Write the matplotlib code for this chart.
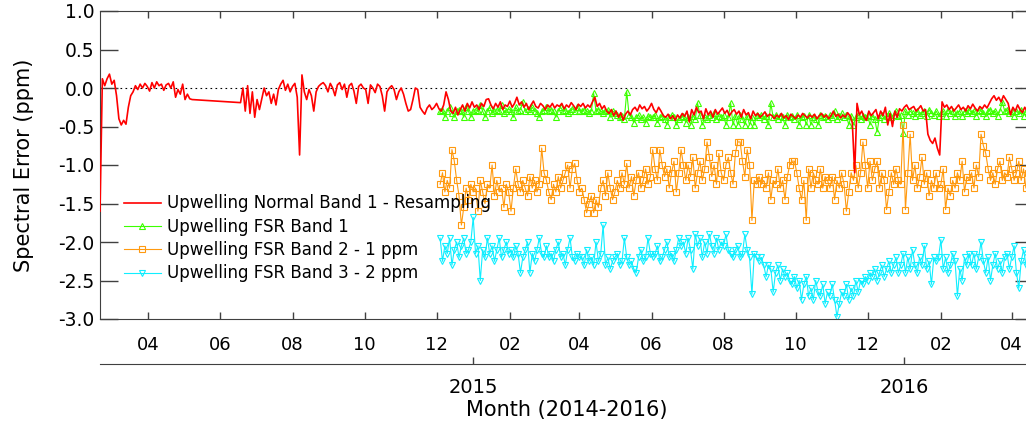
import numpy as np
import matplotlib
matplotlib.use('Agg')
import matplotlib.pyplot as plt
import matplotlib.dates as mdates

# Upwelling Normal Band 1 - Resampling (2-day samples), before and after the data gap
red_start_a = '2014-02-19'
red_a = [-1.6, 0.12, 0.03, 0.12, 0.18, 0.05, 0.1, -0.1, -0.4, -0.48, -0.42, -0.47, -0.25, -0.1, -0.05,
         0.03, -0.02, 0.05, 0.0, 0.06, 0.02, -0.04, 0.07, 0.0, 0.08, 0.03, 0.05, -0.03, 0.04, 0.06,
         0.0, 0.08, -0.12, -0.02, -0.08, 0.05, -0.15, -0.08, -0.14, -0.15]
red_start_b = '2014-06-18'
red_b = [-0.19, 0.0, -0.3, 0.03, -0.33, -0.05, -0.38, -0.15, -0.28, -0.14, 0.0, -0.1, -0.05, -0.2, -0.08,
         -0.22, -0.02, 0.05, 0.1, -0.03, 0.05, -0.05, 0.02, 0.06, -0.12, -0.87, 0.17, -0.05, -0.15, -0.02,
         -0.1, -0.3, -0.05, 0.02, 0.05, 0.07, 0.03, -0.05, 0.06, 0.0, -0.1, 0.04, 0.07, -0.02, 0.05,
         -0.12, 0.03, 0.06, -0.04, -0.2, 0.02, 0.05, 0.0, -0.02, -0.2, 0.04, 0.0, -0.06, 0.05, 0.02,
         -0.1, -0.3, -0.05, 0.0, 0.03, -0.02, -0.15, -0.05, 0.0, -0.08, -0.2, -0.3, -0.28, -0.15, 0.0,
         -0.02, -0.25, -0.3, -0.34, -0.26, -0.22, -0.28, -0.25, -0.2, -0.27, -0.3, -0.22, -0.05, -0.15, -0.3,
         -0.33, -0.25, -0.35, -0.28, -0.22, -0.3, -0.2, -0.26, -0.18, -0.25, -0.22, -0.28, -0.2, -0.24, -0.15,
         -0.14, -0.22, -0.27, -0.2, -0.25, -0.18, -0.28, -0.22, -0.24, -0.17, -0.25, -0.2, -0.12, -0.22, -0.18,
         -0.25, -0.2, -0.28, -0.22, -0.17, -0.24, -0.26, -0.2, -0.23, -0.28, -0.22, -0.25, -0.2, -0.26, -0.22,
         -0.24, -0.2, -0.27, -0.22, -0.25, -0.19, -0.23, -0.28, -0.21, -0.24, -0.2, -0.26, -0.22, -0.25, -0.18,
         -0.12, -0.24, -0.2, -0.27, -0.23, -0.3, -0.33, -0.28, -0.36, -0.3, -0.38, -0.32, -0.42, -0.34, -0.3,
         -0.35, -0.28, -0.25, -0.3, -0.22, -0.27, -0.24, -0.3, -0.26, -0.2, -0.28, -0.32, -0.25, -0.3, -0.36,
         -0.38, -0.34, -0.4, -0.36, -0.42, -0.35, -0.39, -0.33, -0.37, -0.3, -0.44, -0.28, -0.35, -0.25, -0.32,
         -0.3, -0.4, -0.27, -0.35, -0.3, -0.38, -0.28, -0.34, -0.3, -0.26, -0.33, -0.29, -0.36, -0.31, -0.28,
         -0.34, -0.3, -0.38, -0.28, -0.35, -0.32, -0.4, -0.3, -0.36, -0.33, -0.38, -0.35, -0.31, -0.37, -0.34,
         -0.36, -0.4, -0.35, -0.38, -0.33, -0.39, -0.36, -0.41, -0.34, -0.37, -0.4, -0.35, -0.38, -0.33, -0.36,
         -0.39, -0.35, -0.38, -0.34, -0.4, -0.36, -0.33, -0.38, -0.35, -0.4, -0.36, -0.3, -0.37, -0.34, -0.39,
         -0.35, -0.38, -0.32, -0.36, -0.45, -1.1, -0.2, -0.35, -0.3, -0.38, -0.42, -0.3, -0.36, -0.32, -0.28,
         -0.4, -0.3, -0.36, -0.25, -0.48, -0.33, -0.5, -0.3, -0.38, -0.27, -0.3, -0.25, -0.22, -0.28, -0.26,
         -0.24, -0.3, -0.27, -0.23, -0.3, -0.28, -0.6, -0.68, -0.72, -0.65, -0.78, -0.87, -0.18, -0.25, -0.22,
         -0.28, -0.24, -0.3, -0.26, -0.22, -0.28, -0.25, -0.3, -0.23, -0.27, -0.21, -0.26, -0.3, -0.24, -0.27,
         -0.22, -0.26, -0.2, -0.14, -0.1, -0.16, -0.12, -0.18, -0.1, -0.15, -0.2, -0.35, -0.25, -0.3, -0.22,
         -0.28, -0.32, -0.25, -0.3, -0.27]

# FSR bands (2-day samples from this date)
fsr_start = '2014-12-04'
fsr_band1 = [-0.3, -0.28, -0.38, -0.3, -0.25, -0.32, -0.38, -0.3, -0.28, -0.3, -0.38, -0.25, -0.3, -0.38, -0.3,
             -0.28, -0.3, -0.22, -0.3, -0.38, -0.3, -0.25, -0.32, -0.3, -0.28, -0.3, -0.22, -0.32, -0.3, -0.27,
             -0.3, -0.38, -0.25, -0.3, -0.28, -0.18, -0.3, -0.27, -0.3, -0.25, -0.3, -0.32, -0.38, -0.3, -0.28,
             -0.25, -0.3, -0.28, -0.3, -0.38, -0.3, -0.25, -0.3, -0.28, -0.32, -0.3, -0.27, -0.3, -0.25, -0.3,
             -0.3, -0.28, -0.3, -0.32, -0.3, -0.07, -0.3, -0.28, -0.3, -0.32, -0.3, -0.28, -0.38, -0.3, -0.32,
             -0.35, -0.38, -0.36, -0.4, -0.05, -0.35, -0.38, -0.45, -0.38, -0.35, -0.4, -0.38, -0.45, -0.36, -0.38,
             -0.38, -0.35, -0.45, -0.38, -0.36, -0.4, -0.48, -0.38, -0.35, -0.38, -0.48, -0.4, -0.38, -0.36, -0.45,
             -0.38, -0.48, -0.36, -0.4, -0.2, -0.35, -0.48, -0.38, -0.4, -0.35, -0.38, -0.33, -0.4, -0.36, -0.38,
             -0.35, -0.48, -0.38, -0.2, -0.48, -0.36, -0.48, -0.35, -0.4, -0.48, -0.36, -0.48, -0.38, -0.48, -0.35,
             -0.38, -0.35, -0.4, -0.36, -0.48, -0.2, -0.38, -0.35, -0.4, -0.36, -0.38, -0.48, -0.35, -0.38, -0.36,
             -0.4, -0.35, -0.48, -0.38, -0.36, -0.48, -0.35, -0.48, -0.38, -0.4, -0.48, -0.35, -0.38, -0.36, -0.4,
             -0.35, -0.38, -0.3, -0.4, -0.36, -0.33, -0.38, -0.35, -0.48, -0.36, -0.48, -0.38, -0.35, -0.4, -0.36,
             -0.38, -0.35, -0.48, -0.36, -0.4, -0.57, -0.38, -0.35, -0.4, -0.36, -0.33, -0.38, -0.35, -0.3, -0.36,
             -0.35, -0.58, -0.3, -0.35, -0.3, -0.33, -0.36, -0.3, -0.35, -0.32, -0.3, -0.36, -0.28, -0.33, -0.35,
             -0.3, -0.36, -0.33, -0.3, -0.36, -0.28, -0.33, -0.3, -0.36, -0.32, -0.3, -0.36, -0.3, -0.33, -0.28,
             -0.33, -0.3, -0.36, -0.28, -0.3, -0.33, -0.36, -0.3, -0.28, -0.33, -0.3, -0.36, -0.3, -0.18, -0.3,
             -0.28, -0.33, -0.3, -0.36, -0.3, -0.33, -0.28, -0.36, -0.3, -0.33, -0.3, -0.36]
fsr_band2 = [-1.25, -1.1, -1.35, -1.2, -1.3, -0.8, -0.95, -1.2, -1.4, -1.78, -1.55, -1.3, -1.45, -1.25, -1.35,
             -1.3, -1.6, -1.2, -1.35, -1.5, -1.25, -1.3, -1.0, -1.4, -1.2, -1.35, -1.3, -1.55, -1.25, -1.35,
             -1.6, -1.3, -1.05, -1.25, -1.35, -1.2, -1.3, -1.4, -1.15, -1.3, -1.2, -1.35, -1.25, -0.78, -1.1,
             -1.2, -1.35, -1.45, -1.25, -1.35, -1.15, -1.3, -1.2, -1.1, -1.0, -1.3, -1.05, -0.98, -1.2, -1.35,
             -1.3, -1.45, -1.62, -1.5, -1.4, -1.62, -1.45, -1.55, -1.3, -1.2, -1.4, -1.1, -1.3, -1.45, -1.35,
             -1.2, -1.3, -1.1, -1.25, -0.98, -1.3, -1.15, -1.4, -1.2, -1.1, -1.3, -1.2, -1.05, -1.25, -1.15,
             -0.8, -1.05, -1.2, -0.8, -1.0, -1.15, -1.05, -1.3, -1.1, -0.95, -1.35, -1.1, -0.8, -1.0, -1.2,
             -1.0, -1.15, -0.9, -1.3, -1.1, -0.95, -1.2, -1.05, -0.7, -0.9, -1.15, -1.0, -1.25, -0.85, -1.1,
             -1.2, -1.0, -0.9, -1.1, -1.25, -0.85, -0.7, -0.7, -0.95, -1.15, -0.8, -1.0, -1.72, -1.2, -1.25,
             -1.15, -1.25, -1.2, -1.3, -1.1, -1.45, -1.2, -1.25, -1.05, -1.3, -1.2, -1.45, -1.15, -1.0, -0.95,
             -0.95, -1.1, -1.3, -1.45, -1.2, -1.72, -1.05, -1.3, -1.1, -1.2, -1.25, -1.05, -1.3, -1.15, -1.2,
             -1.3, -1.15, -1.45, -1.2, -1.3, -1.1, -1.25, -1.6, -1.35, -1.1, -1.2, -1.0, -1.3, -1.1, -0.7,
             -1.0, -1.3, -0.95, -1.2, -1.05, -0.95, -1.3, -1.1, -1.2, -1.58, -1.35, -1.1, -1.25, -1.05, -1.2,
             -1.25, -0.48, -1.58, -1.1, -0.6, -1.2, -1.0, -1.3, -1.15, -0.9, -1.25, -1.1, -1.4, -1.2, -1.3,
             -1.1, -1.3, -1.25, -1.05, -1.58, -1.3, -1.4, -1.2, -1.3, -1.1, -1.2, -0.95, -1.35, -1.15, -1.2,
             -1.1, -1.3, -1.0, -1.15, -0.6, -0.75, -0.85, -1.05, -1.2, -1.1, -1.25, -1.05, -0.95, -1.2, -1.1,
             -1.15, -0.9, -1.05, -1.2, -1.1, -0.95, -1.2, -1.05, -1.3, -1.1, -1.0, -1.15]
fsr_band3 = [-1.95, -2.25, -2.05, -2.15, -1.95, -2.3, -2.1, -2.0, -2.2, -2.05, -1.95, -2.15, -2.1, -2.0, -1.68,
             -2.15, -2.05, -2.5, -2.1, -2.2, -1.95, -2.15, -2.05, -2.25, -2.1, -1.95, -2.2, -2.1, -2.0, -2.15,
             -2.1, -2.2, -2.05, -2.15, -2.4, -2.2, -2.1, -2.0, -2.4, -2.15, -2.25, -2.1, -1.95, -2.15, -2.2,
             -2.05, -2.2, -2.15, -2.25, -2.1, -2.0, -2.2, -2.15, -2.3, -2.1, -1.95, -2.2, -2.25, -2.15, -2.2,
             -2.2, -2.3, -2.1, -2.25, -2.2, -2.3, -2.0, -2.25, -2.15, -1.78, -2.3, -2.2, -2.35, -2.25, -2.2,
             -2.15, -2.3, -2.25, -1.95, -2.2, -2.3, -2.25, -2.35, -2.4, -2.2, -2.1, -2.25, -2.2, -1.95, -2.15,
             -2.2, -2.15, -2.05, -2.25, -2.2, -2.1, -2.0, -2.2, -2.15, -2.25, -2.1, -1.95, -2.05, -2.0, -2.15,
             -1.95, -2.1, -2.35, -1.9, -2.05, -1.95, -2.2, -2.0, -2.15, -1.9, -2.05, -2.15, -1.95, -2.1, -2.0,
             -2.05, -1.9, -2.1, -2.15, -2.2, -2.1, -2.05, -2.2, -2.15, -1.9, -2.1, -2.2, -2.68, -2.15, -2.2,
             -2.25, -2.2, -2.3, -2.45, -2.3, -2.35, -2.65, -2.4, -2.3, -2.5, -2.35, -2.45, -2.4, -2.5, -2.55,
             -2.45, -2.6, -2.5, -2.75, -2.55, -2.45, -2.7, -2.6, -2.75, -2.5, -2.65, -2.7, -2.55, -2.8, -2.65,
             -2.7, -2.55, -2.75, -2.97, -2.8, -2.65, -2.7, -2.55, -2.75, -2.6, -2.7, -2.5, -2.65, -2.5, -2.55,
             -2.45, -2.5, -2.4, -2.45, -2.35, -2.5, -2.4, -2.3, -2.45, -2.35, -2.25, -2.4, -2.3, -2.2, -2.4,
             -2.3, -2.15, -2.4, -2.2, -2.35, -2.1, -2.3, -2.4, -2.2, -2.3, -2.05, -2.35, -2.25, -2.55, -2.2,
             -2.25, -2.2, -1.97, -2.35, -2.2, -2.4, -2.3, -2.15, -2.25, -2.7, -2.35, -2.5, -2.2, -2.3, -2.15,
             -2.3, -2.15, -2.35, -2.2, -2.0, -2.25, -2.4, -2.2, -2.5, -2.3, -2.15, -2.35, -2.25, -2.4, -2.2,
             -2.15, -2.35, -2.2, -2.05, -2.4, -2.6, -2.25, -2.1, -2.3, -2.2, -2.45, -2.3]

labels = ['Upwelling Normal Band 1 - Resampling', 'Upwelling FSR Band 1',
          'Upwelling FSR Band 2 - 1 ppm', 'Upwelling FSR Band 3 - 2 ppm']
year_ticks = ['2015-01-01', '2016-01-01']


def days(start, n, step=2):
    return np.datetime64(start) + np.arange(n) * np.timedelta64(step, 'D')


red_x = np.concatenate([days(red_start_a, len(red_a)), days(red_start_b, len(red_b))])
red_y = red_a + red_b
fsr_x = days(fsr_start, len(fsr_band1))

plt.rcParams['font.family'] = 'DejaVu Sans'
fig = plt.figure(figsize=(10.26, 4.25), dpi=100)
ax = fig.add_axes([100 / 1026, 106 / 425, 933 / 1026, 308 / 425])

ax.axhline(0.0, color='black', lw=0.8, ls=(0, (1.5, 3)), zorder=1)
ax.plot(red_x, red_y, color='#ff0000', lw=1.2, label=labels[0], zorder=3)
ax.plot(fsr_x, fsr_band1, color='#3cff00', lw=0.8, marker='^', ms=4, mfc='none', mew=0.8,
        label=labels[1], zorder=2)
ax.plot(fsr_x, fsr_band2, color='#ff9a10', lw=0.8, marker='s', ms=4, mfc='none', mew=0.8,
        label=labels[2], zorder=2)
ax.plot(fsr_x, fsr_band3, color='#10eeff', lw=0.8, marker='v', ms=4, mfc='none', mew=0.8,
        label=labels[3], zorder=2)

ax.set_xlim(np.datetime64('2014-02-19'), np.datetime64('2016-04-19'))
ax.set_ylim(-3.0, 1.0)
ax.set_yticks(np.arange(-3.0, 1.01, 0.5))
ax.yaxis.set_major_formatter(matplotlib.ticker.FormatStrFormatter('%.1f'))
ax.xaxis.set_major_locator(mdates.MonthLocator(bymonth=[2, 4, 6, 8, 10, 12]))
ax.xaxis.set_major_formatter(mdates.DateFormatter('%m'))

for s in ax.spines.values():
    s.set_color('#404040')
ax.tick_params(axis='y', direction='in', length=13, width=1, color='#404040',
               left=True, right=True, labelsize=13.5, pad=4)
ax.tick_params(axis='x', direction='in', length=5, width=1, color='#404040',
               top=True, bottom=True, labelsize=13, pad=12)

ax.set_ylabel('Spectral Error (ppm)', fontsize=15)
ax.yaxis.set_label_coords(-66 / 933, 0.5)

# year axis under the month axis
sec = ax.secondary_xaxis(-45 / 308)
sec.set_xticks([np.datetime64(d) for d in year_ticks])
sec.xaxis.set_major_formatter(mdates.DateFormatter('%Y'))
sec.tick_params(direction='in', length=5, width=1, color='#404040', labelsize=14, pad=10)
sec.spines['bottom'].set_color('#404040')
ax.text(0.5, -91 / 308, 'Month (2014-2016)', transform=ax.transAxes, fontsize=15,
        ha='center', va='center')

ax.legend(loc='upper left', bbox_to_anchor=(24 / 933, 124.5 / 308), frameon=False,
          fontsize=12, handlelength=2.2, handletextpad=0.4, labelspacing=0.32,
          borderpad=0, borderaxespad=0)

fig.savefig('out.png', dpi=100)
